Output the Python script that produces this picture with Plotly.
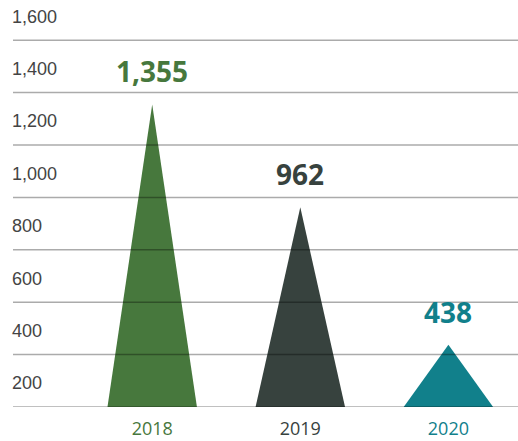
import plotly.graph_objects as go

# ---- data ----
years = ["2018", "2019", "2020"]
values = [1355, 962, 438]
value_labels = ["1,355", "962", "438"]
tick_values = [200, 400, 600, 800, 1000, 1200, 1400, 1600]
tick_labels = ["200", "400", "600", "800", "1,000", "1,200", "1,400", "1,600"]
colors = ["#47783d", "#37423e", "#11808b"]

BASE = min(tick_values)   # triangles rise from the axis floor
HALF_W = 0.302            # half width of each triangle (x units)
PX_PER_UNIT = 0.262
PLOT_H = 407

fig = go.Figure()
xs = list(range(len(years)))
for i, (yr, v, c) in enumerate(zip(years, values, colors)):
    fig.add_trace(go.Scatter(
        x=[i - HALF_W, i, i + HALF_W, i - HALF_W],
        y=[BASE, v, BASE, BASE],
        fill="toself", fillcolor=c, mode="lines",
        line=dict(width=0, color=c), hoverinfo="skip", showlegend=False,
    ))
    fig.add_annotation(
        x=i, y=v, text="<b>%s</b>" % value_labels[i], showarrow=False,
        yshift=33, font=dict(family="Open Sans", size=28, color=c),
    )

# gridlines drawn above the triangles
for tv in tick_values:
    fig.add_shape(type="line", xref="paper", x0=0, x1=1, yref="y", y0=tv, y1=tv,
                  line=dict(color="rgba(0,0,0,0.33)", width=1.5), layer="above")

fig.update_layout(
    width=518, height=441,
    margin=dict(l=13, r=0, t=0, b=441 - PLOT_H),
    plot_bgcolor="white", paper_bgcolor="white",
    xaxis=dict(range=[-0.94, 2.47], tickvals=xs, automargin=False,
               ticktext=['<span style="color:%s">%s</span>' % (c, y) for c, y in zip(colors, years)],
               showgrid=False, zeroline=False, showline=False, ticks="",
               ticklabelstandoff=9,
               tickfont=dict(family="Open Sans", size=18, color="#333")),
    yaxis=dict(range=[BASE, BASE + PLOT_H / PX_PER_UNIT], tickvals=tick_values, ticktext=tick_labels,
               automargin=False,
               showgrid=False, zeroline=False, showline=False, ticks="",
               ticklabelposition="inside", ticklabelshift=-24, ticklabelstandoff=-4,
               tickfont=dict(family="Liberation Sans", size=18, color="#444")),
)

fig.write_html("out.html", config={"displayModeBar": False},
               post_script="document.body.style.margin='0';")
